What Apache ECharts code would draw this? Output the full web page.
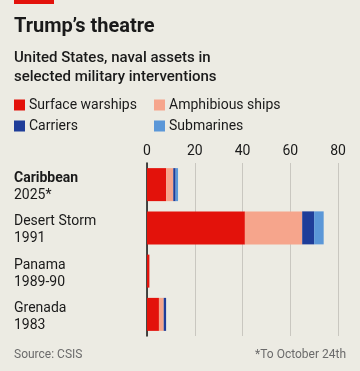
<!DOCTYPE html>
<html><head><meta charset="utf-8">
<script src="https://cdn.jsdelivr.net/npm/echarts@6/dist/echarts.min.js"></script>
<style>html,body{margin:0;padding:0;background:#ecebe3;}#c{width:360px;height:371px;}</style>
</head><body><div id="c"></div>
<script>
const categories = ['Caribbean', 'Desert Storm', 'Panama', 'Grenada'];
const years = ['2025*', '1991', '1989-90', '1983'];
const surfaceWarships = [8, 41, 1, 5];
const amphibiousShips = [3, 24, 0, 2];
const carriers = [1, 5, 0, 1];
const submarines = [1, 4, 0, 0];
const xTicks = [0, 20, 40, 60, 80];

const seriesNames = ['Surface warships', 'Amphibious ships', 'Carriers', 'Submarines'];
const colors = ['#e3120b', '#f6a58c', '#1f3d99', '#5b97d8'];
const values = [surfaceWarships, amphibiousShips, carriers, submarines];
const font = 'Roboto, "Liberation Sans", sans-serif';

const chart = echarts.init(document.getElementById('c'));
const legendPos = [[14, 98], [154, 98], [14, 119], [154, 119]];
chart.setOption({
  backgroundColor: '#ecebe3',
  animation: false,
  color: colors,
  title: [
    {text: 'Trump\u2019s theatre', left: 14, top: 17, padding: 0, textStyle: {fontFamily: font, fontSize: 20, fontWeight: 'bold', color: '#1a1a1a'}},
    {text: 'United States, naval assets in\nselected military interventions', left: 14, top: 49, padding: 0, textStyle: {fontFamily: font, fontSize: 15, fontWeight: 500, color: '#1a1a1a', lineHeight: 19}},
    {text: 'Source: CSIS', left: 14, top: 349, padding: 0, textStyle: {fontFamily: font, fontSize: 12, fontWeight: 'normal', color: '#6b6b6b'}},
    {text: '*To October 24th', right: 14, top: 349, padding: 0, textStyle: {fontFamily: font, fontSize: 12, fontWeight: 'normal', color: '#6b6b6b'}}
  ],
  graphic: [{type: 'rect', shape: {x: 14, y: 0, width: 40, height: 4}, style: {fill: '#e3120b'}}],
  legend: seriesNames.map((n, i) => ({
    data: [n], left: legendPos[i][0], top: legendPos[i][1], icon: 'rect', itemWidth: 11, itemHeight: 11, itemGap: 0,
    selectedMode: false, textStyle: {fontFamily: font, fontSize: 14, color: '#1a1a1a', padding: [0, 0, 0, -1]}, padding: 0
  })),
  grid: {left: 147, right: 22, top: 163, bottom: 35, containLabel: false},
  xAxis: {
    type: 'value', position: 'top', min: xTicks[0], max: xTicks[xTicks.length - 1], interval: 20,
    axisLine: {show: false}, axisTick: {show: false},
    axisLabel: {fontFamily: font, fontSize: 14, color: '#1a1a1a', margin: 5},
    splitLine: {lineStyle: {color: '#c9c7c0', width: 1}}
  },
  yAxis: {
    type: 'category', data: categories, inverse: true,
    axisLine: {show: true, lineStyle: {color: '#111', width: 1.5}}, axisTick: {show: false},
    axisLabel: {
      align: 'left', margin: 133, padding: [5, 0, 0, 0],
      formatter: (v, i) => (i === 0 ? '{b|' + v + '}' : '{n|' + v + '}') + '\n{y|' + years[i] + '}',
      rich: {
        b: {fontFamily: font, fontSize: 14, fontWeight: 'bold', color: '#1a1a1a', lineHeight: 17},
        n: {fontFamily: font, fontSize: 14, color: '#1a1a1a', lineHeight: 17},
        y: {fontFamily: font, fontSize: 14, color: '#1a1a1a', lineHeight: 17}
      }
    }
  },
  series: seriesNames.map((n, i) => ({
    name: n, type: 'bar', stack: 'total', barWidth: 33, data: values[i],
    itemStyle: {color: colors[i]}
  }))
});
</script></body></html>
